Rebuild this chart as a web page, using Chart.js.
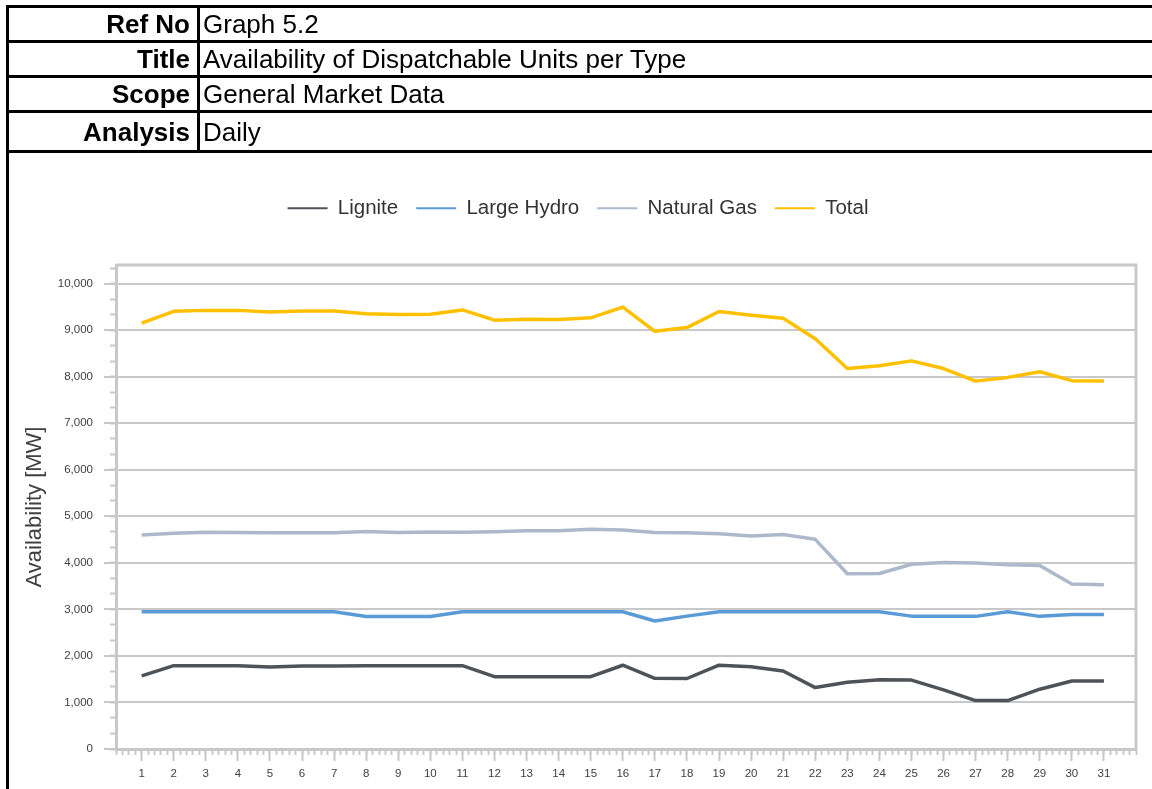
<!DOCTYPE html>
<html>
<head>
<meta charset="utf-8">
<title>Availability of Dispatchable Units per Type</title>
<script src="https://cdn.jsdelivr.net/npm/chart.js@4.4.1/dist/chart.umd.min.js"></script>
<style>
  html, body { margin: 0; padding: 0; background: #fff; }
  body { width: 1152px; height: 789px; position: relative; overflow: hidden;
         font-family: "Liberation Sans", Arial, sans-serif; }
  #chart { position: absolute; left: 0; top: 0; }
  .hline { position: absolute; left: 6px; width: 1146px; height: 3px; background: #000; }
  .vline { position: absolute; width: 3px; background: #000; }
  .cell { position: absolute; font-size: 26px; line-height: 1; color: #000;
          white-space: nowrap; display: flex; align-items: center; }
  .lab { font-weight: bold; justify-content: flex-end; left: 9px; width: 181px; }
  .val { left: 203px; }
</style>
</head>
<body>
<canvas id="chart" width="1152" height="789"></canvas>

<!-- header table -->
<div class="hline" style="top:5px"></div>
<div class="hline" style="top:40px"></div>
<div class="hline" style="top:75px"></div>
<div class="hline" style="top:110px"></div>
<div class="hline" style="top:150px"></div>
<div class="vline" style="left:6px; top:5px; height:784px"></div>
<div class="vline" style="left:197px; top:5px; height:148px"></div>

<div class="cell lab" style="top:8px; height:32px">Ref No</div>
<div class="cell val" style="top:8px; height:32px">Graph 5.2</div>
<div class="cell lab" style="top:43px; height:32px">Title</div>
<div class="cell val" style="top:43px; height:32px">Availability of Dispatchable Units per Type</div>
<div class="cell lab" style="top:78px; height:32px">Scope</div>
<div class="cell val" style="top:78px; height:32px">General Market Data</div>
<div class="cell lab" style="top:113px; height:37px">Analysis</div>
<div class="cell val" style="top:113px; height:37px">Daily</div>

<script>
// Day of month
const days = [1, 2, 3, 4, 5, 6, 7, 8, 9, 10, 11, 12, 13, 14, 15, 16,
              17, 18, 19, 20, 21, 22, 23, 24, 25, 26, 27, 28, 29, 30, 31];

// Daily availability per unit type [MW]
const lignite = [1570, 1790, 1790, 1790, 1760, 1785, 1785, 1790, 1790, 1790, 1790,
                 1555, 1555, 1555, 1555, 1800, 1520, 1515, 1800, 1765, 1675, 1320,
                 1435, 1490, 1480, 1270, 1040, 1040, 1285, 1460, 1460];
const largeHydro = [2950, 2950, 2950, 2950, 2950, 2950, 2950, 2845, 2845, 2845, 2950,
                    2950, 2950, 2950, 2950, 2950, 2750, 2855, 2950, 2950, 2950, 2950,
                    2950, 2950, 2855, 2850, 2850, 2950, 2850, 2890, 2890];
const naturalGas = [4600, 4635, 4655, 4650, 4645, 4645, 4645, 4675, 4650, 4665, 4655,
                    4670, 4690, 4690, 4720, 4705, 4650, 4645, 4625, 4575, 4610, 4505,
                    3765, 3770, 3970, 4010, 3995, 3960, 3945, 3545, 3530];
const total = [9150, 9405, 9425, 9425, 9390, 9410, 9410, 9355, 9335, 9340, 9435,
               9215, 9235, 9230, 9265, 9495, 8975, 9055, 9400, 9320, 9255, 8815,
               8175, 8235, 8340, 8175, 7905, 7985, 8105, 7915, 7905];

// Axis ticks
const yTicks = [0, 1000, 2000, 3000, 4000, 5000, 6000, 7000, 8000, 9000, 10000];
const yMax = 10400;
const xMin = 0.2, xMax = 32;

const FONT = '"Liberation Sans", Arial, sans-serif';
const GRID = '#c8c8c8';
const TEXT = '#404040';

Chart.defaults.font.family = FONT;

const points = vals => days.map((d, i) => ({ x: d, y: vals[i] }));

function series(label, vals, color) {
  return { label, data: points(vals), borderColor: color, backgroundColor: color,
           xAxisID: 'x', yAxisID: 'y' };
}

// minor tick positions for the value and category axes
const yMinorTicks = [];
for (let k = 0; k * 1000 / 3 <= yMax; k++) yMinorTicks.push({ value: k * 1000 / 3 });
const xMinorTicks = [];
for (let k = 1; k * 0.2 <= xMax + 1e-9; k++) xMinorTicks.push({ value: +(k * 0.2).toFixed(1) });

// extra room between the legend row and the plot area; nudge the row right
const legendGap = {
  id: 'legendGap',
  beforeInit(chart) {
    const legend = chart.legend;
    if (!legend) return;
    const fit = legend.fit;
    legend.fit = function () { fit.call(this); this.height += 36.5; };
  },
  afterLayout(chart) {
    const legend = chart.legend;
    if (!legend) return;
    legend.left += 10;
    legend.right += 10;
  }
};

// grey frame around the plot area
const plotFrame = {
  id: 'plotFrame',
  beforeDatasetsDraw(chart) {
    const { ctx, chartArea: a } = chart;
    ctx.save();
    ctx.strokeStyle = GRID;
    ctx.lineWidth = 3;
    ctx.beginPath();
    ctx.moveTo(a.left, a.top);
    ctx.lineTo(a.right, a.top);
    ctx.lineTo(a.right, a.bottom);
    ctx.stroke();
    ctx.restore();
  }
};

new Chart(document.getElementById('chart'), {
  type: 'line',
  data: {
    datasets: [
      series('Lignite', lignite, '#4e5358'),
      series('Large Hydro', largeHydro, '#5b9bd5'),
      series('Natural Gas', naturalGas, '#adb9ca'),
      series('Total', total, '#ffc000')
    ]
  },
  options: {
    responsive: false,
    animation: false,
    devicePixelRatio: 1,
    layout: { padding: { top: 180, left: 0, right: 16, bottom: 0 } },
    elements: {
      line: { borderWidth: 3.5, tension: 0, borderCapStyle: 'butt', borderJoinStyle: 'round' },
      point: { radius: 0, hoverRadius: 0 }
    },
    plugins: {
      tooltip: { enabled: false },
      legend: {
        position: 'top',
        align: 'center',
        labels: {
          boxWidth: 40,
          boxHeight: 2,
          padding: 18,
          color: '#333333',
          font: { size: 20.5 },
          generateLabels(chart) {
            return Chart.defaults.plugins.legend.labels.generateLabels(chart)
              .map(it => Object.assign(it, { fillStyle: it.strokeStyle, lineWidth: 0 }));
          }
        }
      }
    },
    scales: {
      x: {
        type: 'linear',
        position: 'bottom',
        min: xMin, max: xMax,
        weight: 0,
        afterBuildTicks(s) { s.ticks = days.map(v => ({ value: v })); },
        afterFit(s) { s.height = 40; },
        grid: { drawOnChartArea: false, tickLength: 12, tickColor: GRID, tickWidth: 2 },
        border: { display: true, color: GRID, width: 3 },
        ticks: { padding: 6, color: TEXT, font: { size: 11.5 }, maxRotation: 0, autoSkip: false }
      },
      xMinor: {
        type: 'linear',
        position: 'bottom',
        min: xMin, max: xMax,
        weight: -1,
        afterBuildTicks(s) { s.ticks = xMinorTicks.slice(); },
        afterFit(s) { s.height = 0; },
        grid: { drawOnChartArea: false, tickLength: 6, tickColor: GRID, tickWidth: 2 },
        border: { display: false },
        ticks: { display: false }
      },
      y: {
        type: 'linear',
        position: 'left',
        min: 0, max: yMax,
        weight: 0,
        afterBuildTicks(s) { s.ticks = yTicks.map(v => ({ value: v })); },
        afterFit(s) { s.width = 116; },
        grid: { color: GRID, lineWidth: 2, tickLength: 12, tickColor: GRID, tickWidth: 2 },
        border: { display: true, color: GRID, width: 3 },
        ticks: {
          padding: 11, color: TEXT, font: { size: 11.5 },
          callback: v => v.toLocaleString('en-US')
        },
        title: {
          display: true,
          text: 'Availability [MW]',
          color: TEXT,
          font: { size: 22 },
          padding: { top: 22, bottom: 0 }
        }
      },
      yMinor: {
        type: 'linear',
        position: 'left',
        min: 0, max: yMax,
        weight: -1,
        afterBuildTicks(s) { s.ticks = yMinorTicks.slice(); },
        afterFit(s) { s.width = 0; },
        grid: { drawOnChartArea: false, tickLength: 6, tickColor: GRID, tickWidth: 2 },
        border: { display: false },
        ticks: { display: false }
      }
    }
  },
  plugins: [legendGap, plotFrame]
});
</script>
</body>
</html>
